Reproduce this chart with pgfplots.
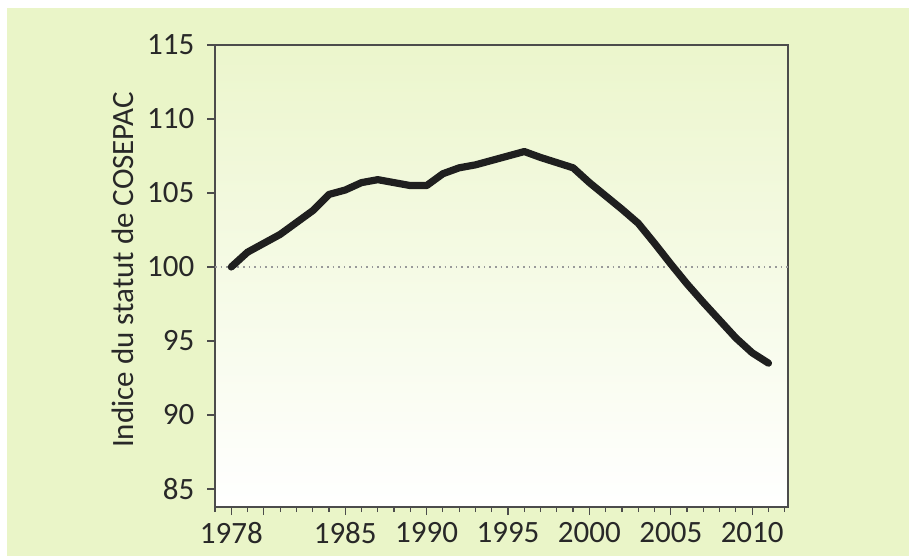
\documentclass[border=0pt]{standalone}
\usepackage{pgfplots}
\pgfplotsset{compat=1.18}
\usepackage{fontspec}
\setmainfont{Carlito}
\definecolor{bggreen}{RGB}{234,245,200}
\definecolor{txt}{RGB}{40,40,40}

\begin{document}
\fontsize{15.5}{18}\selectfont
\begin{tikzpicture}
% page: 909 x 556 px, 1 px = 0.5pt
\fill[white] (0,0) rectangle (454.5pt,278pt);
\fill[bggreen] (3.5pt,0) rectangle (454.5pt,274pt);
\begin{axis}[
    at={(107.5pt,24.5pt)}, anchor=south west,
    scale only axis, width=286.5pt, height=231pt,
    xmin=1977, xmax=2012.2,
    ymin=83.78, ymax=115,
    axis background/.style={top color=bggreen!92!white, middle color=bggreen!30!white, bottom color=white},
    axis line style={draw=black!70, line width=0.9pt},
    tick align=outside,
    xtick={1978,1985,1990,...,2010},
    extra x ticks={1980},
    extra x tick labels={},
    minor xtick={1977,...,2012},
    major tick length=4pt, minor tick length=2.5pt,
    ytick={85,90,...,115},
    xtick pos=bottom, ytick pos=left,
    tick style={draw=black!70, line width=0.6pt},
    ticklabel style={text=txt},
    yticklabel style={xshift=-1pt},
    xticklabel style={yshift=1.5pt},
    /pgf/number format/assume math mode=true,
    /pgf/number format/1000 sep={},
    clip=false,
]
\addplot[gray!80, dotted, line width=0.8pt] coordinates {(1977,100) (2012.2,100)};
\addplot[black!88, line width=3.6pt, line join=round, line cap=round] coordinates {
(1978,100.0) (1979,101.0) (1980,101.6) (1981,102.2) (1982,103.0) (1983,103.8)
(1984,104.9) (1985,105.2) (1986,105.7) (1987,105.9) (1988,105.7) (1989,105.5)
(1990,105.5) (1991,106.3) (1992,106.7) (1993,106.9) (1994,107.2) (1995,107.5)
(1996,107.8) (1997,107.4) (1998,107.05) (1999,106.7) (2000,105.7) (2001,104.8)
(2002,103.9) (2003,102.95) (2004,101.6) (2005,100.2) (2006,98.85) (2007,97.6)
(2008,96.4) (2009,95.2) (2010,94.2) (2011,93.5)
};
\end{axis}
\node[rotate=90, text=txt] at (61.5pt,143pt) {Indice du statut de COSEPAC};
\end{tikzpicture}
\end{document}
